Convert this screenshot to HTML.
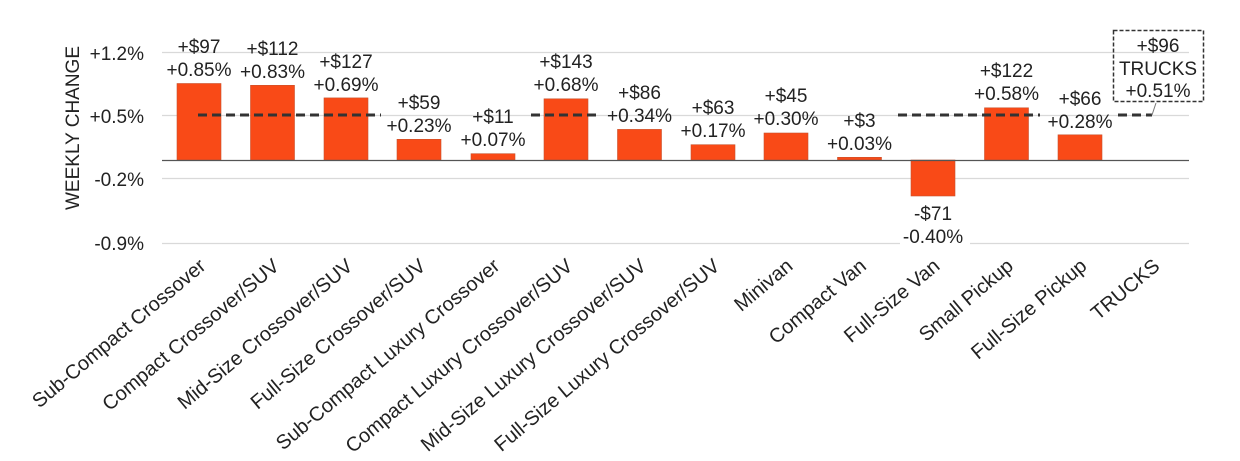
<!DOCTYPE html>
<html><head><meta charset="utf-8"><style>
html,body{margin:0;padding:0;background:#fff;}
svg{display:block;font-family:"Liberation Sans",Arial,sans-serif;}
</style></head><body>
<svg width="1240" height="461" viewBox="0 0 1240 461" xmlns="http://www.w3.org/2000/svg">
<g stroke="#d9d9d9" stroke-width="1.2">
<line x1="162" y1="52.5" x2="1189" y2="52.5"/>
<line x1="162" y1="115.5" x2="1189" y2="115.5"/>
<line x1="162" y1="178.5" x2="1189" y2="178.5"/>
<line x1="162" y1="243.5" x2="900" y2="243.5"/>
<line x1="970" y1="243.5" x2="1189" y2="243.5"/>
</g>
<g font-size="19" fill="#222" text-anchor="end">
<text x="144" y="60">+1.2%</text>
<text x="144" y="123">+0.5%</text>
<text x="144" y="186">-0.2%</text>
<text x="144" y="250">-0.9%</text>
</g>
<text transform="translate(79,128) rotate(-90)" font-size="19" fill="#222" text-anchor="middle">WEEKLY CHANGE</text>
<g fill="#f94a17" stroke="#c8532e" stroke-width="0.6">
<rect x="177" y="83.5" width="44" height="76.5"/>
<rect x="250.5" y="85.3" width="44" height="74.7"/>
<rect x="324" y="97.9" width="44" height="62.1"/>
<rect x="397" y="139.3" width="44" height="20.7"/>
<rect x="471" y="153.7" width="44" height="6.3"/>
<rect x="544" y="98.8" width="44" height="61.2"/>
<rect x="617.5" y="129.4" width="44" height="30.6"/>
<rect x="691" y="144.7" width="44" height="15.3"/>
<rect x="764" y="133" width="44" height="27"/>
<rect x="837.5" y="157.3" width="44" height="2.7"/>
<rect x="911" y="160" width="44" height="36"/>
<rect x="984.5" y="107.8" width="44" height="52.2"/>
<rect x="1058" y="134.8" width="44" height="25.2"/>
</g>
<line x1="162" y1="160.5" x2="1189" y2="160.5" stroke="#555" stroke-width="1.2"/>
<g stroke="#333" stroke-width="3" stroke-dasharray="9,5">
<line x1="198" y1="115" x2="381" y2="115"/>
<line x1="531" y1="115" x2="601" y2="115"/>
<line x1="898" y1="115" x2="1040" y2="115"/>
<line x1="1118" y1="115" x2="1152" y2="115"/>
</g>
<line x1="1152" y1="115" x2="1156" y2="103" stroke="#777" stroke-width="1"/>
<rect x="1113.5" y="30.5" width="90" height="71" fill="none" stroke="#333" stroke-width="1.5" stroke-dasharray="4,2"/>
<g font-size="19" fill="#222" text-anchor="middle">
<text x="1158" y="52">+$96</text><text x="1158" y="75">TRUCKS</text><text x="1158" y="97">+0.51%</text>
<text x="199" y="53">+$97</text><text x="199" y="76">+0.85%</text>
<text x="272.5" y="55">+$112</text><text x="272.5" y="78">+0.83%</text>
<text x="346" y="68">+$127</text><text x="346" y="91">+0.69%</text>
<text x="419" y="109">+$59</text><text x="419" y="132">+0.23%</text>
<text x="493" y="123">+$11</text><text x="493" y="146">+0.07%</text>
<text x="566" y="68">+$143</text><text x="566" y="91">+0.68%</text>
<text x="639.5" y="99">+$86</text><text x="639.5" y="122">+0.34%</text>
<text x="713" y="114">+$63</text><text x="713" y="137">+0.17%</text>
<text x="786" y="102">+$45</text><text x="786" y="125">+0.30%</text>
<text x="859.5" y="127">+$3</text><text x="859.5" y="150">+0.03%</text>
<text x="933" y="220">-$71</text><text x="933" y="243">-0.40%</text>
<text x="1006.5" y="77">+$122</text><text x="1006.5" y="100">+0.58%</text>
<text x="1080" y="105">+$66</text><text x="1080" y="128">+0.28%</text>
</g>
<g font-size="20" fill="#222" text-anchor="end">
<text transform="translate(207,268) rotate(-40)">Sub-Compact Crossover</text>
<text transform="translate(280.5,268) rotate(-40)">Compact Crossover/SUV</text>
<text transform="translate(354,268) rotate(-40)">Mid-Size Crossover/SUV</text>
<text transform="translate(427,268) rotate(-40)">Full-Size Crossover/SUV</text>
<text transform="translate(501,268) rotate(-40)">Sub-Compact Luxury Crossover</text>
<text transform="translate(574,268) rotate(-40)">Compact Luxury Crossover/SUV</text>
<text transform="translate(647.5,268) rotate(-40)">Mid-Size Luxury Crossover/SUV</text>
<text transform="translate(721,268) rotate(-40)">Full-Size Luxury Crossover/SUV</text>
<text transform="translate(794,268) rotate(-40)">Minivan</text>
<text transform="translate(867.5,268) rotate(-40)">Compact Van</text>
<text transform="translate(941,268) rotate(-40)">Full-Size Van</text>
<text transform="translate(1014.5,268) rotate(-40)">Small Pickup</text>
<text transform="translate(1088,268) rotate(-40)">Full-Size Pickup</text>
<text transform="translate(1161,268) rotate(-40)">TRUCKS</text>
</g>
</svg>
</body></html>
